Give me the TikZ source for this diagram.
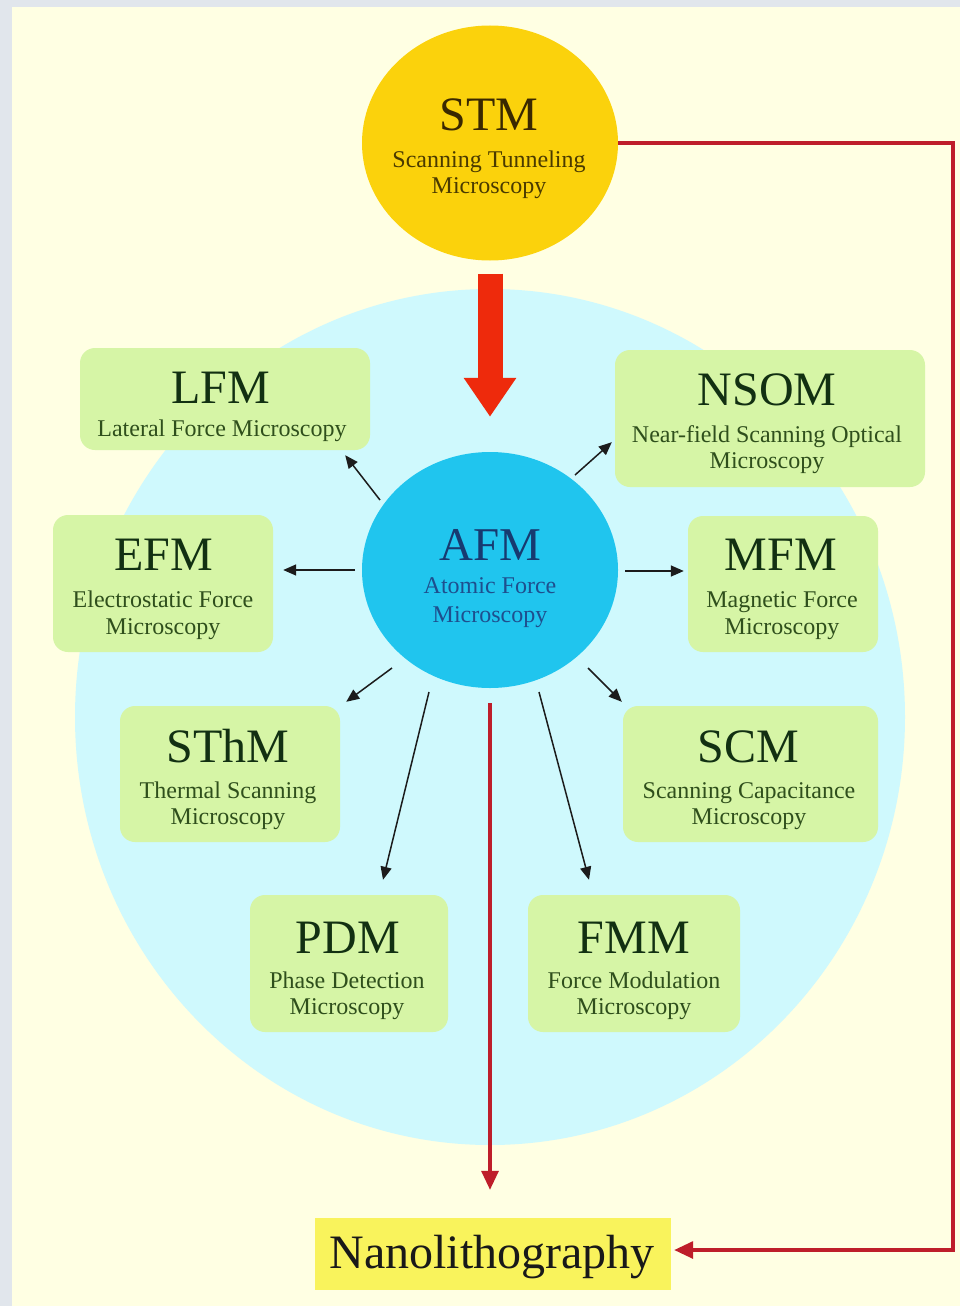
\documentclass[tikz,border=0pt]{standalone}
\usepackage{fontspec}
\setmainfont{Liberation Serif}
\usetikzlibrary{arrows.meta,calc,shapes.geometric}
\definecolor{bggray}{HTML}{E1E6EC}
\definecolor{cream}{HTML}{FFFFE3}
\definecolor{paleblue}{HTML}{CFF9FD}
\definecolor{boxgreen}{HTML}{D6F5A6}
\definecolor{stmgold}{HTML}{FBD20C}
\definecolor{afmcyan}{HTML}{20C5EE}
\definecolor{nanoyellow}{HTML}{F9F35C}
\definecolor{bigred}{HTML}{EE2A0C}
\definecolor{linered}{HTML}{BE1E2A}
\definecolor{ttlgreen}{HTML}{123012}
\definecolor{subgreen}{HTML}{2F4F1C}
\definecolor{stmtxt}{HTML}{3A2800}
\definecolor{stmsub}{HTML}{4A3A00}
\definecolor{afmtxt}{HTML}{173A70}
\definecolor{afmsub}{HTML}{1E4F8E}
\definecolor{arrowgray}{HTML}{1C1C1C}
\tikzset{
  gbox/.style={draw=none, fill=boxgreen, rounded corners=15pt, inner sep=0pt},
  ttl/.style={anchor=base, inner sep=0pt, font=\fontsize{48}{48}\selectfont, text=ttlgreen},
  sub/.style={anchor=base, inner sep=0pt, font=\fontsize{24}{24}\selectfont, text=subgreen},
  radarrow/.style={draw=arrowgray, line width=1.5pt, -{Triangle[length=13pt,width=11pt]}},
  redarrow/.style={draw=linered, line width=3.2pt, -{Triangle[length=19pt,width=17pt]}},
  bigarrow/.style={draw=bigred, line width=25pt, -{Triangle[length=39pt,width=50pt]}},
}
\begin{document}
\begin{tikzpicture}[x=1pt,y=-1pt]
\useasboundingbox (0,0) rectangle (960,1306);
% backgrounds
\fill[bggray] (0,0) rectangle (960,1306);
\fill[cream] (12,7) rectangle (960,1306);
\node[ellipse, fill=paleblue, minimum width=830pt, minimum height=856pt, inner sep=0pt] (field) at (490,717) {};

% STM
\node[ellipse, fill=stmgold, minimum width=256pt, minimum height=235pt, inner sep=0pt] (stm) at (490,143) {};
\node[anchor=base, inner sep=0pt, font=\fontsize{48}{48}\selectfont, text=stmtxt] (stmT) at (489,130) {STM};
\node[anchor=base, inner sep=0pt, font=\fontsize{24}{24}\selectfont, text=stmsub] (stmS1) at (489,167) {Scanning Tunneling};
\node[anchor=base, inner sep=0pt, font=\fontsize{24}{24}\selectfont, text=stmsub] (stmS2) at (489,193) {Microscopy};

% AFM
\node[ellipse, fill=afmcyan, minimum width=256pt, minimum height=236pt, inner sep=0pt] (afm) at (490,570) {};
\node[anchor=base, inner sep=0pt, font=\fontsize{47}{47}\selectfont, text=afmtxt] (afmT) at (490,560) {AFM};
\node[anchor=base, inner sep=0pt, font=\fontsize{24}{24}\selectfont, text=afmsub] (afmS1) at (490,593) {Atomic Force};
\node[anchor=base, inner sep=0pt, font=\fontsize{24}{24}\selectfont, text=afmsub] (afmS2) at (490,622) {Microscopy};

% big arrow STM -> AFM
\draw[bigarrow] ($(stm.south)+(0,13)$) -- ($(afm.north)+(0,-35)$);

% green boxes
\node[gbox, minimum width=290pt, minimum height=102pt] (lfm) at (225,399) {};
\node[ttl] (lfmT) at (221,403) {LFM};
\node[sub] (lfmS) at (222,436) {Lateral Force Microscopy};

\node[gbox, minimum width=310pt, minimum height=137pt] (nsom) at (770,418.5) {};
\node[ttl] (nsomT) at (767,405) {NSOM};
\node[sub] (nsomS1) at (767,442) {Near-field Scanning Optical};
\node[sub] (nsomS2) at (767,468) {Microscopy};

\node[gbox, minimum width=220pt, minimum height=137pt] (efm) at (163,583.5) {};
\node[ttl] (efmT) at (164,570) {EFM};
\node[sub] (efmS1) at (163,607) {Electrostatic Force};
\node[sub] (efmS2) at (163,634) {Microscopy};

\node[gbox, minimum width=190pt, minimum height=136pt] (mfm) at (783,584) {};
\node[ttl] (mfmT) at (781,570) {MFM};
\node[sub] (mfmS1) at (782,607) {Magnetic Force};
\node[sub] (mfmS2) at (782,634) {Microscopy};

\node[gbox, minimum width=220pt, minimum height=136pt] (sthm) at (230,774) {};
\node[ttl] (sthmT) at (228,762) {SThM};
\node[sub] (sthmS1) at (228,798) {Thermal Scanning};
\node[sub] (sthmS2) at (228,824) {Microscopy};

\node[gbox, minimum width=255pt, minimum height=136pt] (scm) at (750.5,774) {};
\node[ttl] (scmT) at (748,762) {SCM};
\node[sub] (scmS1) at (749,798) {Scanning Capacitance};
\node[sub] (scmS2) at (749,824) {Microscopy};

\node[gbox, minimum width=198pt, minimum height=137pt] (pdm) at (349,963.5) {};
\node[ttl] (pdmT) at (348,953) {PDM};
\node[sub] (pdmS1) at (347,988) {Phase Detection};
\node[sub] (pdmS2) at (347,1014) {Microscopy};

\node[gbox, minimum width=212pt, minimum height=137pt] (fmm) at (634,963.5) {};
\node[ttl] (fmmT) at (634,953) {FMM};
\node[sub] (fmmS1) at (634,988) {Force Modulation};
\node[sub] (fmmS2) at (634,1014) {Microscopy};

% Nanolithography
\node[fill=nanoyellow, minimum width=356pt, minimum height=72pt, inner sep=0pt] (nano) at (493,1254) {};
\node[anchor=base, inner sep=0pt, font=\fontsize{48}{48}\selectfont, text=black!90] (nanoT) at (492,1268) {Nanolithography};

% radial arrows
\draw[radarrow] ($(afm.center)+(-110,-70)$) -- ($(lfm.south east)+(-25,5)$);
\draw[radarrow] ($(afm.center)+(85,-95)$) -- ($(nsom.south west)+(-3,-45)$);
\draw[radarrow] ($(afm.center)+(-135,0)$) -- ($(efm.east)+(10,-13.5)$);
\draw[radarrow] ($(afm.center)+(135,1)$) -- ($(mfm.west)+(-4,-13)$);
\draw[radarrow] ($(afm.center)+(-98,98)$) -- ($(sthm.north east)+(6,-4)$);
\draw[radarrow] ($(afm.center)+(98,98)$) -- ($(scm.north west)+(-1,-4)$);
\draw[radarrow] ($(afm.center)+(-61,122)$) -- ($(pdm.north)+(34,-15)$);
\draw[radarrow] ($(afm.center)+(49,122)$) -- ($(fmm.north)+(-45,-15)$);

% red connectors
\draw[redarrow] ($(afm.south)+(0,15)$) -- ($(afm.south |- nano.north)+(0,-28)$);
\coordinate (rc) at (953,143);
\draw[redarrow] (stm.east) -- (rc) |- ($(nano.east)+(3,-4)$);
\end{tikzpicture}
\end{document}
